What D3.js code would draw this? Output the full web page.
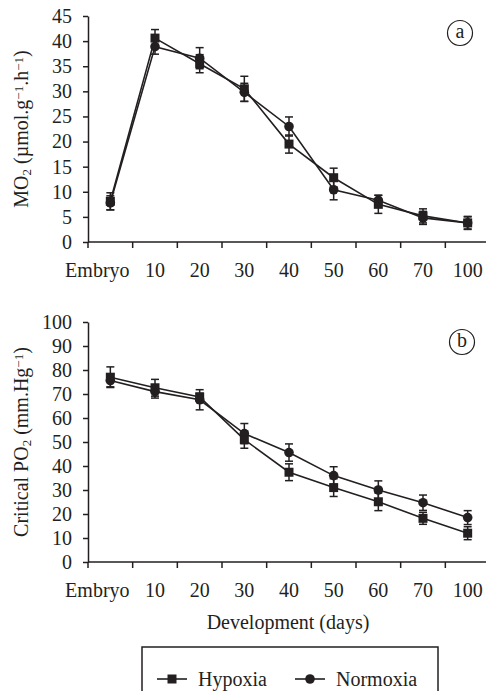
<!DOCTYPE html>
<html>
<head>
<meta charset="utf-8">
<script src="https://cdn.jsdelivr.net/npm/d3@7/dist/d3.min.js"></script>
<style>
  body { margin: 0; background: #fff; }
</style>
</head>
<body>
<svg id="chart" width="488" height="691"></svg>
<script>
// categories (development stage, days)
const stages = ['Embryo', '10', '20', '30', '40', '50', '60', '70', '100'];

// panel a: MO2 (umol.g-1.h-1)
const moHypoxia = [8.1, 40.6, 35.5, 30.5, 19.5, 12.8, 7.5, 5.2, 3.8];
const moHypoxiaErr = [1.7, 1.7, 1.8, 2.5, 1.8, 1.9, 1.8, 1.4, 1.3];
const moNormoxia = [7.8, 38.9, 36.6, 29.8, 23.0, 10.4, 8.3, 4.8, 3.8];
const moNormoxiaErr = [1.4, 1.5, 2.1, 1.8, 1.9, 2.0, 1.0, 1.3, 1.2];
const moTicks = [0, 5, 10, 15, 20, 25, 30, 35, 40, 45];

// panel b: critical PO2 (mm.Hg-1)
const poHypoxia = [77.0, 72.6, 68.8, 51.0, 37.4, 31.0, 25.1, 18.2, 12.0];
const poHypoxiaErr = [4.3, 3.5, 1.5, 3.6, 3.5, 3.7, 3.7, 2.5, 2.7];
const poNormoxia = [75.6, 71.0, 67.6, 53.5, 45.6, 36.0, 30.0, 24.7, 18.5];
const poNormoxiaErr = [2.6, 2.7, 4.2, 4.2, 3.6, 3.7, 3.8, 3.2, 2.9];
const poTicks = [0, 10, 20, 30, 40, 50, 60, 70, 80, 90, 100];

const ink = '#231f20';
const serif = "'Liberation Serif', 'Times New Roman', Times, 'DejaVu Serif', serif";
const svg = d3.select('#chart')
    .attr('font-family', serif)
    .style('font-family', serif);

const x = d3.scaleBand().domain(stages).range([88, 490]);

function label(sel) {
    return sel.attr('font-family', serif).style('font-family', serif).attr('fill', ink);
}

function panel(opts) {
    const g = svg.append('g');
    const y = d3.scaleLinear().domain([0, opts.max]).range([opts.bottom, opts.top]);

    // y axis
    const yAxis = g.append('g')
        .attr('transform', 'translate(88,0)')
        .call(d3.axisLeft(y).tickValues(opts.ticks).tickSize(5).tickSizeOuter(0).tickPadding(11));
    yAxis.attr('font-family', serif).attr('font-size', 20);
    yAxis.select('.domain').attr('stroke', ink).attr('stroke-width', 1.5);
    yAxis.selectAll('.tick line').attr('stroke', ink).attr('stroke-width', 1.5);
    label(yAxis.selectAll('.tick text')).attr('font-size', 20);

    // x axis
    g.append('line')
        .attr('x1', 88).attr('x2', 486)
        .attr('y1', y(0)).attr('y2', y(0))
        .attr('stroke', ink).attr('stroke-width', 1.5);
    g.selectAll('.xtick').data(stages).enter().append('line')
        .attr('x1', (d) => x(d)).attr('x2', (d) => x(d))
        .attr('y1', y(0)).attr('y2', y(0) + 6)
        .attr('stroke', ink).attr('stroke-width', 1.5);
    label(g.selectAll('.xlab').data(stages).enter().append('text'))
        .attr('x', (d, i) => x(d) + x.bandwidth() / 2 - (i === 0 ? 13 : 0))
        .attr('y', y(0) + 35)
        .attr('text-anchor', 'middle')
        .attr('font-size', 20)
        .text((d) => d);

    // y label
    const lab = label(g.append('text'))
        .attr('transform', `translate(${opts.labelX},${(opts.top + opts.bottom) / 2}) rotate(-90)`)
        .attr('text-anchor', 'middle')
        .attr('font-size', 20);
    opts.label.forEach((part) => {
        const t = lab.append('tspan').text(part.t);
        if (part.sub) t.attr('font-size', 13).attr('baseline-shift', '-22%');
        if (part.sup) t.attr('font-size', 13).attr('baseline-shift', '40%');
    });

    // series
    const cx = (i) => x(stages[i]) + x.bandwidth() / 2;
    const line = d3.line().x((d, i) => cx(i)).y((d) => y(d));

    const series = [
        { v: opts.normoxia, e: opts.normoxiaErr, shape: 'circle' },
        { v: opts.hypoxia, e: opts.hypoxiaErr, shape: 'square' }
    ];
    series.forEach((s) => {
        g.append('path')
            .datum(s.v)
            .attr('d', line)
            .attr('fill', 'none')
            .attr('stroke', ink)
            .attr('stroke-width', 1.6);
    });
    series.forEach((s) => {
        const eb = g.append('g').attr('stroke', ink).attr('stroke-width', 1.5);
        s.v.forEach((v, i) => {
            const xc = cx(i);
            eb.append('line').attr('x1', xc).attr('x2', xc)
                .attr('y1', y(v - s.e[i])).attr('y2', y(v + s.e[i]));
            [v - s.e[i], v + s.e[i]].forEach((w) => {
                eb.append('line').attr('x1', xc - 4).attr('x2', xc + 4)
                    .attr('y1', y(w)).attr('y2', y(w));
            });
        });
    });
    series.forEach((s) => {
        s.v.forEach((v, i) => {
            if (s.shape === 'circle') {
                g.append('circle').attr('cx', cx(i)).attr('cy', y(v)).attr('r', 4.8).attr('fill', ink);
            } else {
                g.append('rect').attr('x', cx(i) - 4.5).attr('y', y(v) - 4.5)
                    .attr('width', 9).attr('height', 9).attr('fill', ink);
            }
        });
    });

    // panel letter
    g.append('circle')
        .attr('cx', opts.letterX).attr('cy', opts.letterY).attr('r', 12.5)
        .attr('fill', 'none').attr('stroke', ink).attr('stroke-width', 1.2);
    label(g.append('text'))
        .attr('x', opts.letterX).attr('y', opts.letterY + 5)
        .attr('text-anchor', 'middle')
        .attr('font-size', 20)
        .text(opts.letter);
}

panel({
    top: 16, bottom: 242, max: 45, ticks: moTicks,
    hypoxia: moHypoxia, hypoxiaErr: moHypoxiaErr,
    normoxia: moNormoxia, normoxiaErr: moNormoxiaErr,
    labelX: 28,
    label: [{ t: 'MO' }, { t: '2', sub: true }, { t: ' (µmol.g' }, { t: '−1', sup: true },
        { t: '.h' }, { t: '−1', sup: true }, { t: ')' }],
    letter: 'a', letterX: 460, letterY: 33
});

panel({
    top: 322, bottom: 562, max: 100, ticks: poTicks,
    hypoxia: poHypoxia, hypoxiaErr: poHypoxiaErr,
    normoxia: poNormoxia, normoxiaErr: poNormoxiaErr,
    labelX: 28,
    label: [{ t: 'Critical PO' }, { t: '2', sub: true }, { t: ' (mm.Hg' }, { t: '−1', sup: true }, { t: ')' }],
    letter: 'b', letterX: 462, letterY: 342
});

// x title
label(svg.append('text'))
    .attr('x', 288).attr('y', 629)
    .attr('text-anchor', 'middle')
    .attr('font-size', 20)
    .text('Development (days)');

// legend
const legend = svg.append('g');
legend.append('rect')
    .attr('x', 142).attr('y', 647).attr('width', 296).attr('height', 60)
    .attr('fill', 'none').attr('stroke', ink).attr('stroke-width', 1.5);
const legendItems = [
    { name: 'Hypoxia', shape: 'square', x0: 157 },
    { name: 'Normoxia', shape: 'circle', x0: 295 }
];
legendItems.forEach((d) => {
    legend.append('line').attr('x1', d.x0).attr('x2', d.x0 + 30)
        .attr('y1', 679).attr('y2', 679).attr('stroke', ink).attr('stroke-width', 1.6);
    if (d.shape === 'square') {
        legend.append('rect').attr('x', d.x0 + 15 - 4.5).attr('y', 679 - 4.5)
            .attr('width', 9).attr('height', 9).attr('fill', ink);
    } else {
        legend.append('circle').attr('cx', d.x0 + 15).attr('cy', 679).attr('r', 4.8).attr('fill', ink);
    }
    label(legend.append('text')).attr('x', d.x0 + 41).attr('y', 686)
        .attr('font-size', 20).text(d.name);
});
</script>
</body>
</html>
